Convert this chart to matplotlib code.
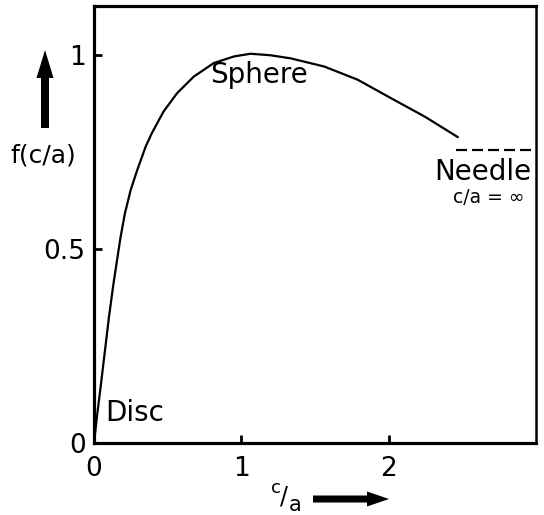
import matplotlib
matplotlib.use("Agg")
import matplotlib.pyplot as plt
from matplotlib.patches import FancyArrow
from matplotlib.transforms import IdentityTransform

plt.rcParams['font.family'] = ['DejaVu Sans']
plt.rcParams['mathtext.fontset'] = 'dejavusans'

# curve f(c/a)
ratio_ca = [0.0, 0.02, 0.048, 0.075, 0.102, 0.132, 0.168, 0.181, 0.210,
            0.249, 0.294, 0.351, 0.392, 0.472, 0.563, 0.677, 0.813, 0.95,
            1.063, 1.2, 1.336, 1.563, 1.79, 2.018, 2.245, 2.47]
f_ca = [0, 0.068, 0.154, 0.24, 0.326, 0.41, 0.5, 0.532, 0.592,
        0.652, 0.704, 0.764, 0.798, 0.854, 0.901, 0.944, 0.979, 0.996,
        1.003, 0.999, 0.991, 0.970, 0.936, 0.888, 0.841, 0.788]

# needle limit (c/a = infinity)
needle_x = [2.46, 2.97]
needle_y = [0.755, 0.755]

x_ticks = [0, 1, 2]
x_tick_labels = ['0', '1', '2']
y_ticks = [0, 0.5, 1]
y_tick_labels = ['0', '0.5', '1']

W, H = 544, 515
fig = plt.figure(figsize=(W / 100, H / 100), dpi=100)
ax = fig.add_axes([94 / W, 1 - 443 / H, (536 - 94) / W, (443 - 6) / H])

ax.plot(ratio_ca, f_ca, color='black', lw=1.6, solid_capstyle='round',
        solid_joinstyle='round')
ax.plot(needle_x, needle_y, color='black', lw=1.6, dashes=(4.95, 2.25))

ax.set_xlim(0, 3.0)
ax.set_ylim(0, 1.126)

ax.set_xticks(x_ticks)
ax.set_xticklabels(x_tick_labels)
ax.set_yticks(y_ticks)
ax.set_yticklabels(y_tick_labels)
ax.tick_params(direction='in', length=6, width=2, labelsize=19, pad=6,
               colors='black')
ax.xaxis.set_tick_params(pad=9)

for side, lw in [('left', 2.3), ('bottom', 2.3), ('top', 2.3), ('right', 1.8)]:
    ax.spines[side].set_linewidth(lw)
    ax.spines[side].set_color('black')

ax.text(0.79, 0.985, 'Sphere', fontsize=20, va='top', ha='left')
ax.text(2.31, 0.735, 'Needle', fontsize=20, va='top', ha='left')
ax.text(2.44, 0.658, 'c/a = ∞', fontsize=13.5, va='top', ha='left')
ax.text(0.075, 0.057, 'Disc', fontsize=20, va='baseline', ha='left')

ident = IdentityTransform()
# y label and arrow
fig.text(43 / W, 1 - 155 / H, 'f(c/a)', fontsize=18, ha='center', va='center')
fig.add_artist(FancyArrow(45, H - 128, 0, 78, width=8, head_width=17,
                          head_length=28, length_includes_head=True,
                          color='black', lw=0, transform=ident))

# x label and arrow
fig.text(276 / W, 1 - 488 / H, 'c', fontsize=13, ha='center', va='center')
fig.text(284 / W, 1 - 497 / H, '/', fontsize=17, ha='center', va='center')
fig.text(295 / W, 1 - 505 / H, 'a', fontsize=15, ha='center', va='center')
fig.add_artist(FancyArrow(313, H - 499, 76, 0, width=7, head_width=15,
                          head_length=22, length_includes_head=True,
                          color='black', lw=0, transform=ident))

fig.savefig('out.png', dpi=100)
